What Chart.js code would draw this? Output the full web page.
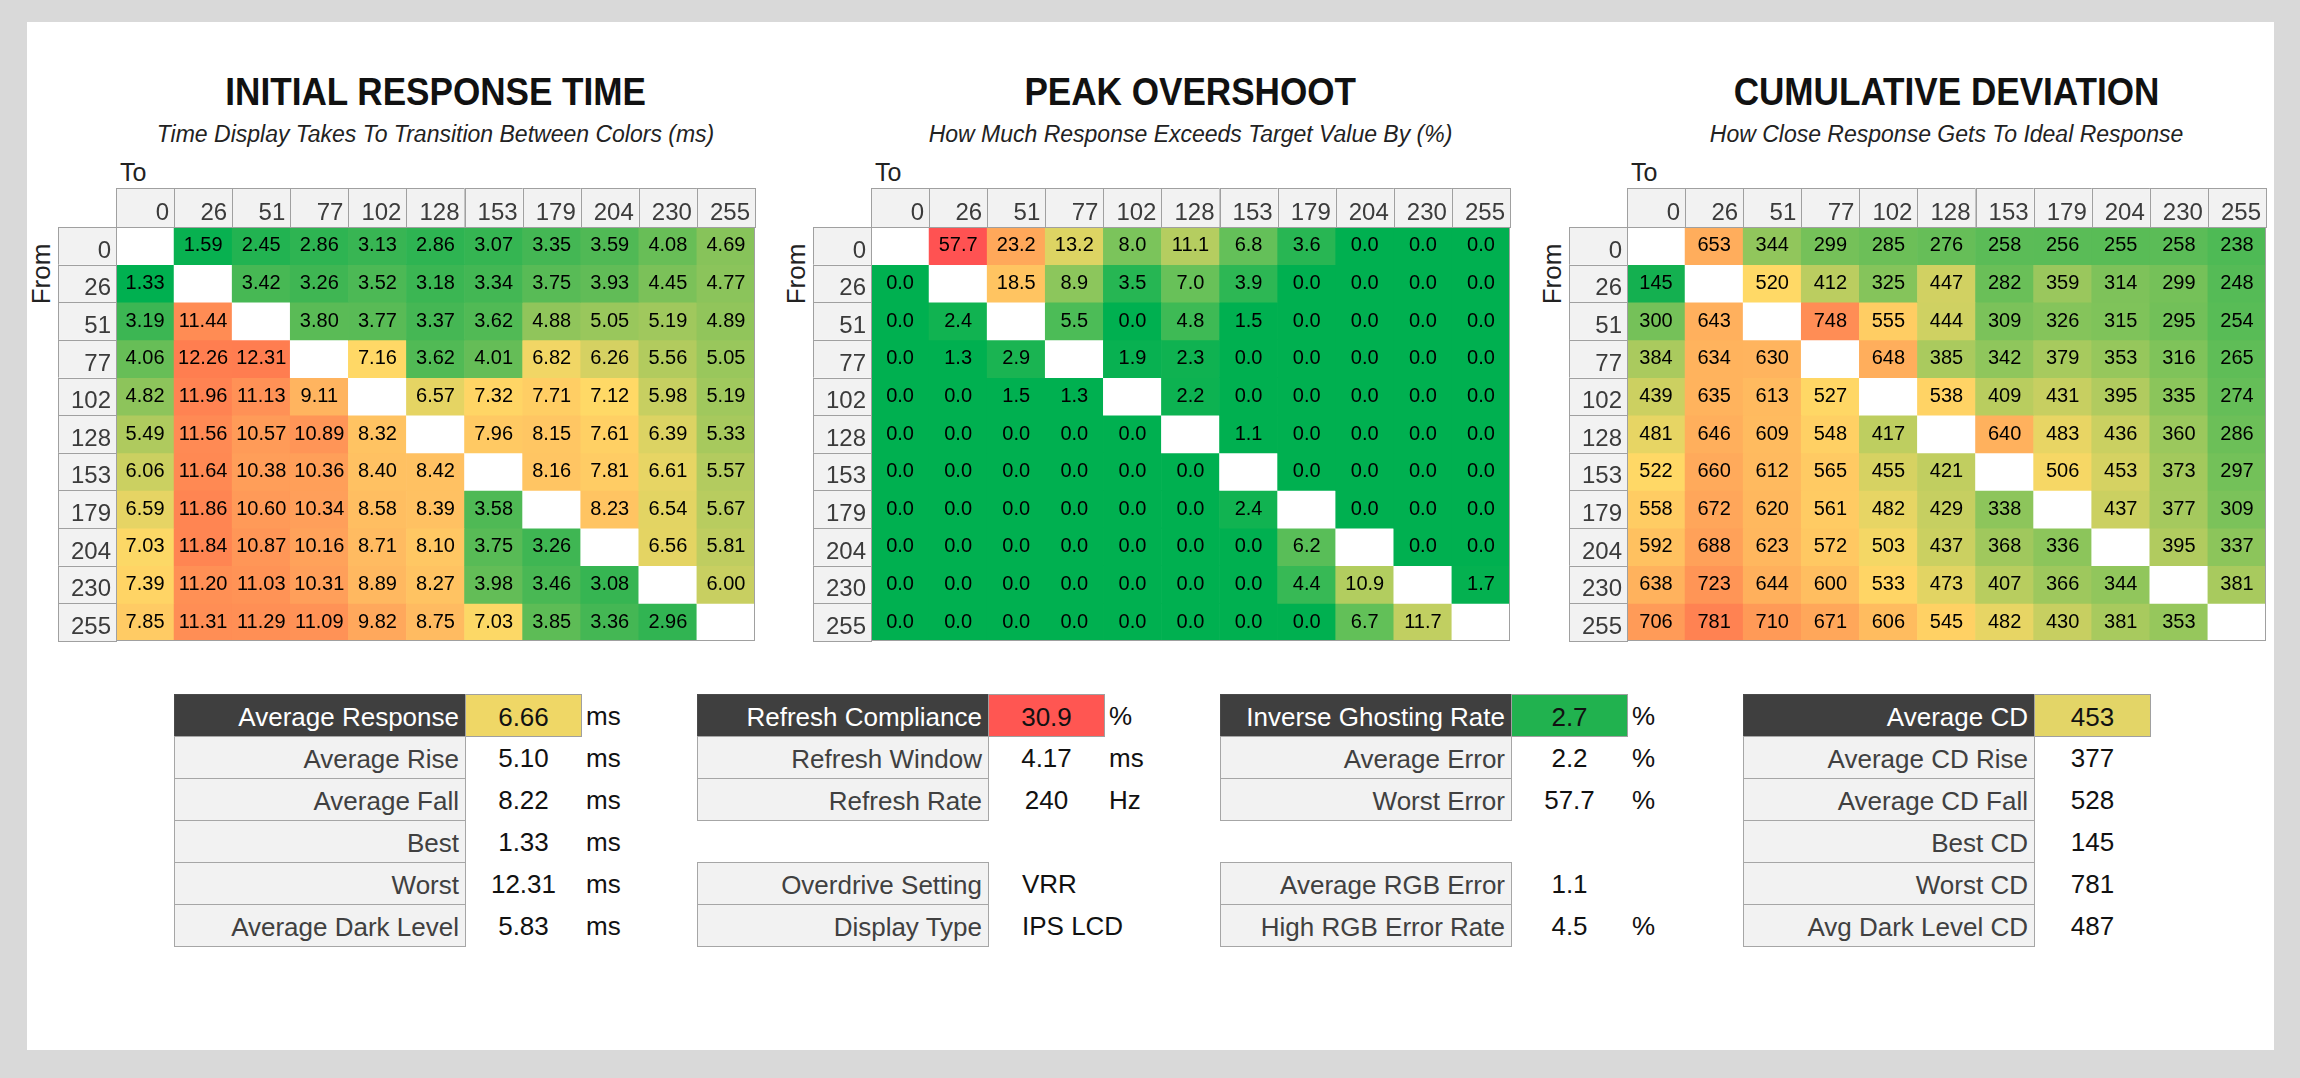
<!DOCTYPE html>
<html>
<head>
<meta charset="utf-8">
<script src="https://cdn.jsdelivr.net/npm/chart.js@4.4.0/dist/chart.umd.min.js"></script>
<style>
    body { margin: 0; width: 2300px; height: 1078px; overflow: hidden; background: #d9d9d9;
           font-family: "Liberation Sans", Arial, sans-serif; }
    #panel { position: absolute; left: 27px; top: 22px; width: 2247px; height: 1028px; background: #fff; }
    .abs { position: absolute; white-space: nowrap; }
    .title { font-weight: bold; font-size: 39px; line-height: 39px; text-align: center; color: #111; }
    .title span { display: inline-block; transform: scaleX(0.9); }
    .subtitle { font-style: italic; font-size: 23px; line-height: 23px; text-align: center; color: #222; }
    .axis-to { font-size: 25px; line-height: 25px; color: #222; }
    .axis-from { font-size: 26px; line-height: 28px; width: 80px; text-align: center; color: #222;
                 transform: rotate(-90deg); }
    .stat-label { width: 292px; height: 43px; box-sizing: border-box; border: 1px solid #a6a6a6;
                  background: #f2f2f2; color: #404040; font-size: 26px; line-height: 45px;
                  text-align: right; padding-right: 6px; }
    .stat-label.head { background: #3f3f3f; color: #fff; border-color: #4a4a4a; }
    .stat-value { width: 117px; height: 43px; box-sizing: border-box; font-size: 26px; line-height: 45px;
                  text-align: center; color: #111; }
    .stat-value.box { border: 1px solid #a0a0a0; }
    .stat-value.text { text-align: left; padding-left: 34px; }
    .stat-unit { font-size: 26px; line-height: 45px; height: 43px; color: #111; }
</style>
</head>
<body>
<div id="panel"></div>
<script>
// Transition levels
const toLevels = [0, 26, 51, 77, 102, 128, 153, 179, 204, 230, 255];
const fromLevels = [0, 26, 51, 77, 102, 128, 153, 179, 204, 230, 255];

// Initial response time (ms), rows = from, cols = to
const responseTimes = [
    [null, 1.59, 2.45, 2.86, 3.13, 2.86, 3.07, 3.35, 3.59, 4.08, 4.69],
    [1.33, null, 3.42, 3.26, 3.52, 3.18, 3.34, 3.75, 3.93, 4.45, 4.77],
    [3.19, 11.44, null, 3.80, 3.77, 3.37, 3.62, 4.88, 5.05, 5.19, 4.89],
    [4.06, 12.26, 12.31, null, 7.16, 3.62, 4.01, 6.82, 6.26, 5.56, 5.05],
    [4.82, 11.96, 11.13, 9.11, null, 6.57, 7.32, 7.71, 7.12, 5.98, 5.19],
    [5.49, 11.56, 10.57, 10.89, 8.32, null, 7.96, 8.15, 7.61, 6.39, 5.33],
    [6.06, 11.64, 10.38, 10.36, 8.40, 8.42, null, 8.16, 7.81, 6.61, 5.57],
    [6.59, 11.86, 10.60, 10.34, 8.58, 8.39, 3.58, null, 8.23, 6.54, 5.67],
    [7.03, 11.84, 10.87, 10.16, 8.71, 8.10, 3.75, 3.26, null, 6.56, 5.81],
    [7.39, 11.20, 11.03, 10.31, 8.89, 8.27, 3.98, 3.46, 3.08, null, 6.00],
    [7.85, 11.31, 11.29, 11.09, 9.82, 8.75, 7.03, 3.85, 3.36, 2.96, null]
];

// Peak overshoot (%)
const overshoot = [
    [null, 57.7, 23.2, 13.2, 8.0, 11.1, 6.8, 3.6, 0.0, 0.0, 0.0],
    [0.0, null, 18.5, 8.9, 3.5, 7.0, 3.9, 0.0, 0.0, 0.0, 0.0],
    [0.0, 2.4, null, 5.5, 0.0, 4.8, 1.5, 0.0, 0.0, 0.0, 0.0],
    [0.0, 1.3, 2.9, null, 1.9, 2.3, 0.0, 0.0, 0.0, 0.0, 0.0],
    [0.0, 0.0, 1.5, 1.3, null, 2.2, 0.0, 0.0, 0.0, 0.0, 0.0],
    [0.0, 0.0, 0.0, 0.0, 0.0, null, 1.1, 0.0, 0.0, 0.0, 0.0],
    [0.0, 0.0, 0.0, 0.0, 0.0, 0.0, null, 0.0, 0.0, 0.0, 0.0],
    [0.0, 0.0, 0.0, 0.0, 0.0, 0.0, 2.4, null, 0.0, 0.0, 0.0],
    [0.0, 0.0, 0.0, 0.0, 0.0, 0.0, 0.0, 6.2, null, 0.0, 0.0],
    [0.0, 0.0, 0.0, 0.0, 0.0, 0.0, 0.0, 4.4, 10.9, null, 1.7],
    [0.0, 0.0, 0.0, 0.0, 0.0, 0.0, 0.0, 0.0, 6.7, 11.7, null]
];

// Cumulative deviation
const cumulativeDeviation = [
    [null, 653, 344, 299, 285, 276, 258, 256, 255, 258, 238],
    [145, null, 520, 412, 325, 447, 282, 359, 314, 299, 248],
    [300, 643, null, 748, 555, 444, 309, 326, 315, 295, 254],
    [384, 634, 630, null, 648, 385, 342, 379, 353, 316, 265],
    [439, 635, 613, 527, null, 538, 409, 431, 395, 335, 274],
    [481, 646, 609, 548, 417, null, 640, 483, 436, 360, 286],
    [522, 660, 612, 565, 455, 421, null, 506, 453, 373, 297],
    [558, 672, 620, 561, 482, 429, 338, null, 437, 377, 309],
    [592, 688, 623, 572, 503, 437, 368, 336, null, 395, 337],
    [638, 723, 644, 600, 533, 473, 407, 366, 344, null, 381],
    [706, 781, 710, 671, 606, 545, 482, 430, 381, 353, null]
];

const heatmapTitles = ['INITIAL RESPONSE TIME', 'PEAK OVERSHOOT', 'CUMULATIVE DEVIATION'];
const heatmapSubtitles = [
    'Time Display Takes To Transition Between Colors (ms)',
    'How Much Response Exceeds Target Value By (%)',
    'How Close Response Gets To Ideal Response'
];

// Summary tables
const responseLabels = ['Average Response', 'Average Rise', 'Average Fall', 'Best', 'Worst', 'Average Dark Level'];
const responseValues = ['6.66', '5.10', '8.22', '1.33', '12.31', '5.83'];
const responseUnits = ['ms', 'ms', 'ms', 'ms', 'ms', 'ms'];

const refreshLabels = ['Refresh Compliance', 'Refresh Window', 'Refresh Rate', null, 'Overdrive Setting', 'Display Type'];
const refreshValues = ['30.9', '4.17', '240', null, 'VRR', 'IPS LCD'];
const refreshUnits = ['%', 'ms', 'Hz', null, '', ''];

const errorLabels = ['Inverse Ghosting Rate', 'Average Error', 'Worst Error', null, 'Average RGB Error', 'High RGB Error Rate'];
const errorValues = ['2.7', '2.2', '57.7', null, '1.1', '4.5'];
const errorUnits = ['%', '%', '%', null, '', '%'];

const cdLabels = ['Average CD', 'Average CD Rise', 'Average CD Fall', 'Best CD', 'Worst CD', 'Avg Dark Level CD'];
const cdValues = ['453', '377', '528', '145', '781', '487'];
const cdUnits = ['', '', '', '', '', ''];

// Colour scales (value -> rgb)
const responseStops = [[1.33, [0, 176, 80]], [3.0, [50, 180, 82]], [7.1, [255, 217, 102]], [9.0, [255, 182, 96]], [12.31, [255, 125, 80]]];
const overshootStops = [[1.5, [0, 176, 80]], [15, [255, 217, 102]], [23.2, [255, 168, 90]], [57.7, [255, 82, 82]]];
const cdStops = [[145, [20, 176, 80]], [520, [255, 217, 102]], [781, [255, 130, 82]]];
const highlightColors = ['#efd766', '#ff5652', '#21b24f', '#e3d567'];

// Layout (page pixels)
const HEADER_LEFTS = [116, 871, 1627];
const GRID_TOP = 188;
const HEAD_H = 39;
const LABEL_W = 58;
const GRID_W = 639;
const GRID_H = 414;
const TABLE_LEFTS = [174, 697, 1220, 1743];
const TABLE_TOP = 694;
const ROW_H = 42;

function colorFor(stops, v) {
    const rgb = c => `rgb(${c[0]}, ${c[1]}, ${c[2]})`;
    if (v <= stops[0][0]) return rgb(stops[0][1]);
    for (let k = 1; k < stops.length; k++) {
        if (v <= stops[k][0]) {
            const [v0, c0] = stops[k - 1];
            const [v1, c1] = stops[k];
            const t = (v - v0) / (v1 - v0);
            return rgb(c0.map((c, n) => Math.round(c + (c1[n] - c) * t)));
        }
    }
    return rgb(stops[stops.length - 1][1]);
}

function addDiv(cls, text, left, top, width) {
    const d = document.createElement('div');
    d.className = 'abs ' + cls;
    d.style.left = left + 'px';
    d.style.top = top + 'px';
    if (width) d.style.width = width + 'px';
    d.innerHTML = text;
    document.body.appendChild(d);
    return d;
}

// Header boxes, row labels and cell numbers
const heatmapCells = {
    id: 'heatmapCells',
    afterDatasetsDraw(chart, args, opts) {
        const ctx = chart.ctx;
        const area = chart.chartArea;
        const xs = chart.scales.x;
        const ys = chart.scales.y;
        const n = chart.data.labels.length;
        const cw = area.width / n;

        ctx.save();
        // column headers
        ctx.font = '24px "Liberation Sans", Arial, sans-serif';
        ctx.textAlign = 'right';
        ctx.textBaseline = 'alphabetic';
        chart.data.labels.forEach((lab, j) => {
            const left = xs.getPixelForValue(j) - cw / 2;
            ctx.fillStyle = '#f2f2f2';
            ctx.fillRect(left, area.top - HEAD_H, cw, HEAD_H);
            ctx.strokeStyle = '#a0a0a0';
            ctx.lineWidth = 1;
            ctx.strokeRect(Math.round(left) + 0.5, area.top - HEAD_H + 0.5, Math.round(cw), HEAD_H);
            ctx.fillStyle = '#3b3b3b';
            ctx.fillText(lab, left + cw - 5, area.top - 7);
        });

        // row labels
        chart.data.datasets.forEach((ds, i) => {
            const top = ys.getPixelForValue(i);
            const bottom = ys.getPixelForValue(i + 1);
            ctx.fillStyle = '#f2f2f2';
            ctx.fillRect(0, top, area.left, bottom - top);
            ctx.strokeStyle = '#a0a0a0';
            ctx.strokeRect(0.5, Math.round(top) + 0.5, area.left, Math.round(bottom - top));
            ctx.fillStyle = '#3b3b3b';
            ctx.fillText(ds.label, area.left - 5, bottom - 7);
        });

        // cell values
        ctx.font = '20px "Liberation Sans", Arial, sans-serif';
        ctx.textAlign = 'center';
        ctx.textBaseline = 'middle';
        ctx.fillStyle = '#000';
        chart.data.datasets.forEach((ds, i) => {
            chart.getDatasetMeta(i).data.forEach((bar, j) => {
                const v = opts.values[i][j];
                if (v === null) return;
                ctx.fillText(v.toFixed(opts.decimals), bar.x, (bar.y + bar.base) / 2);
            });
        });

        // outer border of the grid
        ctx.strokeStyle = '#a0a0a0';
        ctx.strokeRect(area.left + 0.5, area.top + 0.5, area.width - 1, area.height - 1);
        ctx.restore();
    }
};

function buildHeatmap(idx, values, stops, decimals) {
    const headerLeft = HEADER_LEFTS[idx];
    const canvasLeft = headerLeft - LABEL_W;

    addDiv('title', `<span>${heatmapTitles[idx]}</span>`, headerLeft, 72, GRID_W);
    addDiv('subtitle', heatmapSubtitles[idx], headerLeft, 123, GRID_W);
    addDiv('axis-to', 'To', headerLeft + 4, 160);
    addDiv('axis-from', 'From', canvasLeft - 17 - 40, 274 - 14);

    const canvas = document.createElement('canvas');
    canvas.width = LABEL_W + GRID_W + 1;
    canvas.height = HEAD_H + GRID_H + 1;
    canvas.style.position = 'absolute';
    canvas.style.left = canvasLeft + 'px';
    canvas.style.top = GRID_TOP + 'px';
    document.body.appendChild(canvas);

    new Chart(canvas, {
        type: 'bar',
        data: {
            labels: toLevels.map(String),
            datasets: fromLevels.map((f, i) => ({
                label: String(f),
                data: toLevels.map(() => 1),
                backgroundColor: values[i].map(v => v === null ? '#ffffff' : colorFor(stops, v)),
                borderWidth: 0,
                barPercentage: 1,
                categoryPercentage: 1
            }))
        },
        options: {
            responsive: false,
            animation: false,
            devicePixelRatio: 1,
            events: [],
            layout: { padding: { left: LABEL_W, top: HEAD_H, right: 1, bottom: 1 } },
            plugins: {
                legend: { display: false },
                tooltip: { enabled: false },
                heatmapCells: { values: values, decimals: decimals }
            },
            scales: {
                x: { type: 'category', display: false, stacked: true, grid: { display: false } },
                y: { type: 'linear', display: false, stacked: true, min: 0, max: fromLevels.length, reverse: true }
            }
        },
        plugins: [heatmapCells]
    });
}

function buildStatTable(idx, labels, values, units) {
    const left = TABLE_LEFTS[idx];
    labels.forEach((lab, k) => {
        if (lab === null) return;
        const top = TABLE_TOP + k * ROW_H;
        addDiv('stat-label' + (k === 0 ? ' head' : ''), lab, left, top);
        const isText = isNaN(parseFloat(values[k]));
        const v = addDiv('stat-value' + (k === 0 ? ' box' : '') + (isText ? ' text' : ''), values[k], left + 291, top);
        if (k === 0) v.style.background = highlightColors[idx];
        if (units[k]) addDiv('stat-unit', units[k], left + 291 + 121, top);
    });
}

buildHeatmap(0, responseTimes, responseStops, 2);
buildHeatmap(1, overshoot, overshootStops, 1);
buildHeatmap(2, cumulativeDeviation, cdStops, 0);

buildStatTable(0, responseLabels, responseValues, responseUnits);
buildStatTable(1, refreshLabels, refreshValues, refreshUnits);
buildStatTable(2, errorLabels, errorValues, errorUnits);
buildStatTable(3, cdLabels, cdValues, cdUnits);
</script>
</body>
</html>
